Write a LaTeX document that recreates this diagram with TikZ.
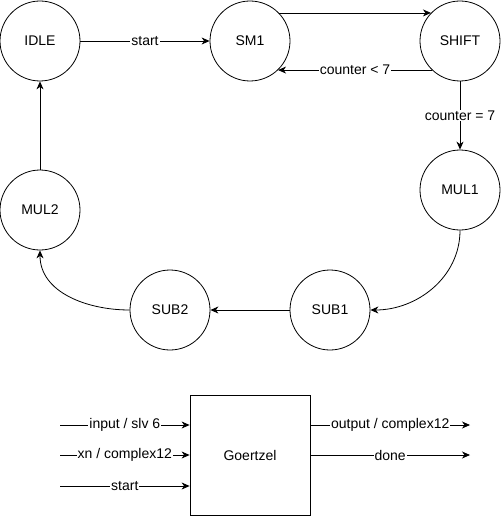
\documentclass[tikz,border=0pt]{standalone}
\usepackage{fontspec}
\setmainfont{Liberation Sans}
\usepackage{tikz}
\usetikzlibrary{arrows.meta,positioning}

\begin{document}
\begin{tikzpicture}[
  x=1pt,y=-1pt,
  font=\fontsize{14}{16}\selectfont,
  state/.style={draw,circle,minimum size=80pt,inner sep=0pt,line width=0.8pt},
  block/.style={draw,minimum width=120pt,minimum height=120pt,line width=0.8pt},
  arr/.style={-{Stealth[length=8pt,width=7pt,inset=2.5pt]},line width=0.8pt},
  lbl/.style={fill=white,inner sep=1pt},
]
\useasboundingbox (0,0) rectangle (501,516);

% Zustaende
\node[state] (idle)  at (40,41)   {IDLE};
\node[state] (sm1)   at (250,41)  {SM1};
\node[state] (shift) at (460,41)  {SHIFT};
\node[state] (mul1)  at (460,190) {MUL1};
\node[state] (sub1)  at (330,310) {SUB1};
\node[state] (sub2)  at (170,310) {SUB2};
\node[state] (mul2)  at (40,210)  {MUL2};

% Uebergaenge
\draw[arr] (idle) -- node[lbl] {start} (sm1);
\draw[arr] (sm1.44) -- (shift.136);
\draw[arr] (shift.226) -- node[lbl] {counter < 7} (sm1.-46);
\draw[arr] (shift) -- node[lbl] {counter = 7} (mul1);
\draw[arr] (mul1.south) to[out=-90,in=0] (sub1.east);
\draw[arr] (sub1) -- (sub2);
\draw[arr] (sub2.west) to[out=180,in=-90] (mul2.south);
\draw[arr] (mul2) -- (idle);

% Blockschaltbild
\node[block] (goertzel) at (250,455) {Goertzel};
\coordinate (in1) at (60,425);
\coordinate (in2) at (60,455);
\coordinate (in3) at (60,486);
\coordinate (out1) at (470,425);
\coordinate (out2) at (470,455);
\draw[arr] (in1) -- node[lbl] {input / slv 6} (in1 -| goertzel.west);
\draw[arr] (in2) -- node[lbl] {xn / complex12} (in2 -| goertzel.west);
\draw[arr] (in3) -- node[lbl] {start} (in3 -| goertzel.west);
\draw[arr] (out1 -| goertzel.east) -- node[lbl] {output / complex12} (out1);
\draw[arr] (out2 -| goertzel.east) -- node[lbl] {done} (out2);

\end{tikzpicture}
\end{document}
